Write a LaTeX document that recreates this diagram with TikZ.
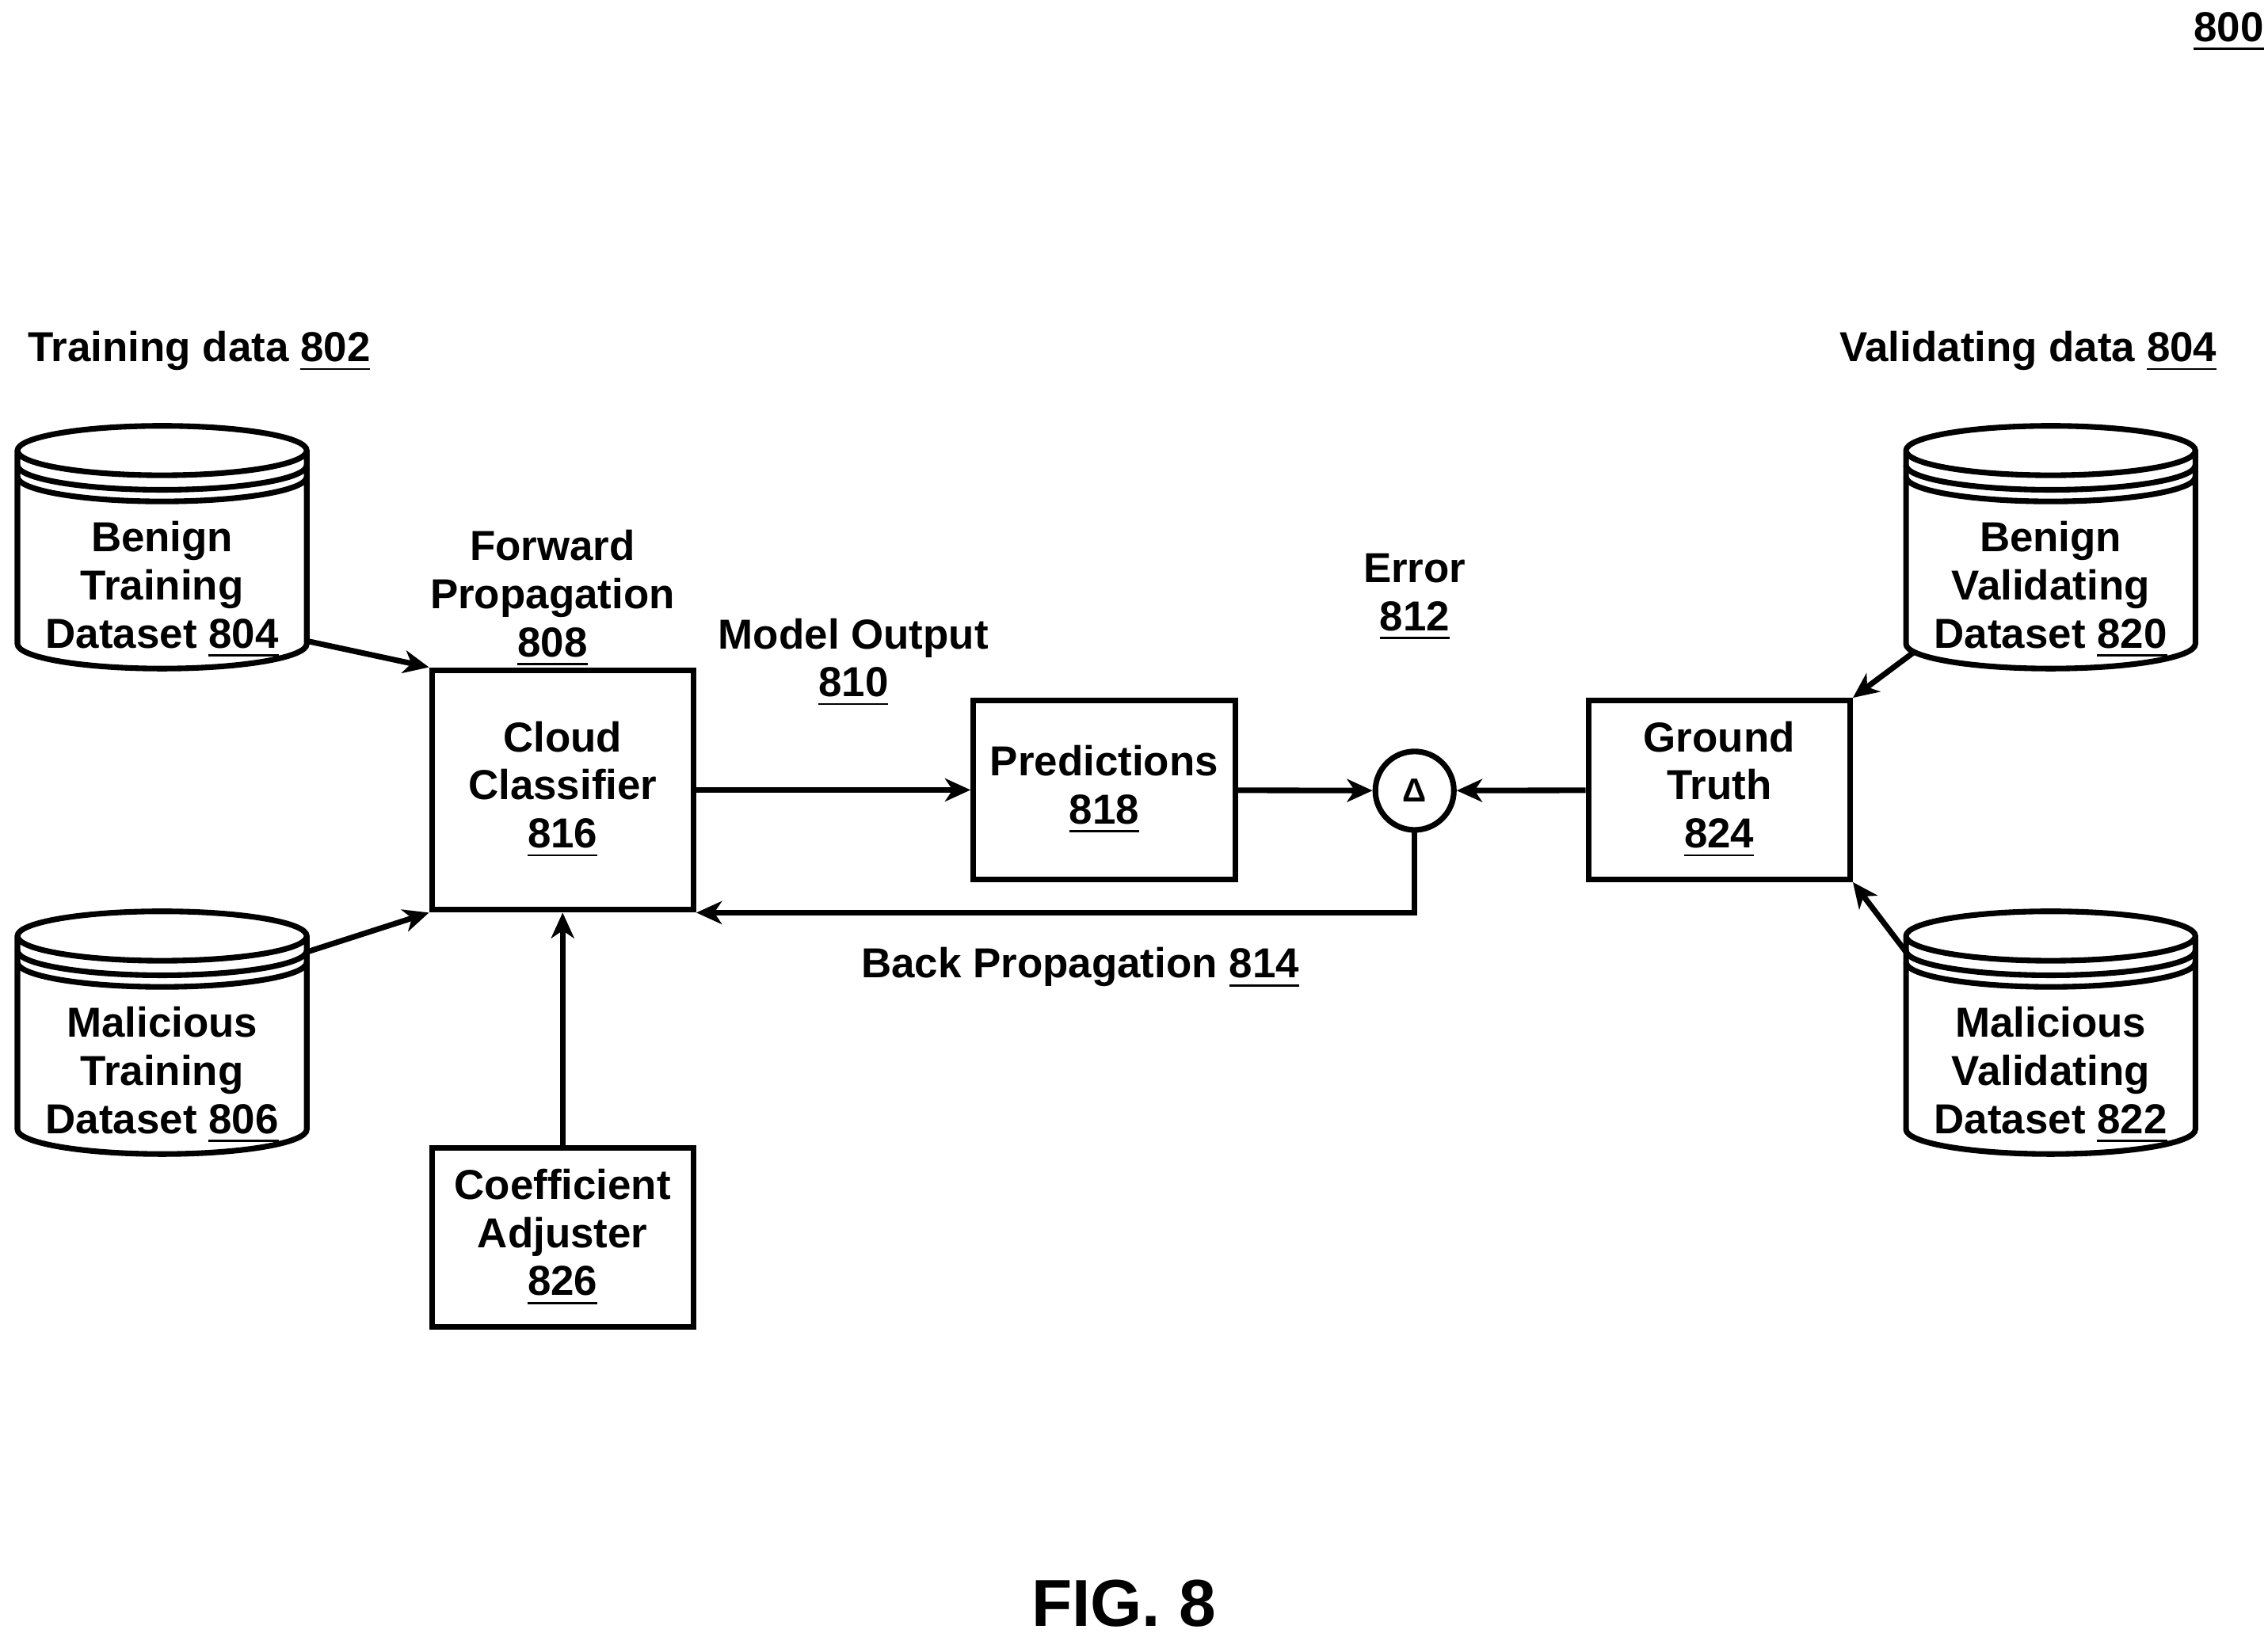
\documentclass[tikz,border=0pt]{standalone}
\usepackage{fontspec}
\setmainfont{Liberation Sans}
\usetikzlibrary{arrows.meta}
\usetikzlibrary{positioning}

% database cylinder: name, left x, top y, text
\newcommand{\dbcyl}[4]{%
  \draw[thick line] (#2,#3-0.17) arc[start angle=180,end angle=360,x radius=0.995,y radius=0.17]
    arc[start angle=0,end angle=180,x radius=0.995,y radius=0.17] -- (#2,#3-1.5)
    arc[start angle=180,end angle=360,x radius=0.995,y radius=0.17] -- (#2+1.99,#3-0.17);
  \draw[thick line] (#2,#3-0.27) arc[start angle=180,end angle=360,x radius=0.995,y radius=0.17];
  \draw[thick line] (#2,#3-0.35) arc[start angle=180,end angle=360,x radius=0.995,y radius=0.17];
  \node[txt] (#1) at (#2+0.995,#3-1.13) {#4};
}

\begin{document}
\begin{tikzpicture}[
  thick line/.style={line width=1.1pt},
  txt/.style={font=\bfseries\fontsize{8.2}{9.4}\selectfont,align=center,inner sep=0pt},
  box/.style={draw,thick line,txt,minimum width=1.8cm},
  arr/.style={thick line,-{Stealth[length=5pt,width=4.5pt,inset=1.5pt]}}
]
\useasboundingbox (0,0) rectangle (15.6,-11.235);

\node[txt] (n800) at (15.33,-0.22) {\underline{800}};
\node[txt] (train) at (1.37,-2.42) {Training data \underline{802}};
\node[txt] (valid) at (13.95,-2.42) {Validating data \underline{804}};

\dbcyl{bt}{0.12}{-2.93}{Benign\\Training\\Dataset \underline{804}}
\dbcyl{mt}{0.12}{-6.27}{Malicious\\Training\\Dataset \underline{806}}
\dbcyl{bv}{13.11}{-2.93}{Benign\\Validating\\Dataset \underline{820}}
\dbcyl{mv}{13.11}{-6.27}{Malicious\\Validating\\Dataset \underline{822}}

\node[box,minimum height=1.65cm] (cloud) at (3.87,-5.435) {Cloud\\Classifier\\\underline{816}};
\node[box,minimum height=1.23cm] (pred) at (7.595,-5.435) {Predictions\\\underline{818}};
\node[draw,thick line,circle,minimum size=0.54cm,inner sep=0pt,font=\bfseries\fontsize{6.5}{8}\selectfont] (err) at (9.73,-5.44) {Δ};
\node[box,minimum height=1.23cm] (gt) at (11.825,-5.435) {Ground\\Truth\\\underline{824}};
\node[box,minimum height=1.23cm] (coef) at (3.87,-8.515) {Coefficient\\Adjuster\\\underline{826}};

\node[txt] (fwd) at (3.80,-4.12) {Forward\\Propagation\\\underline{808}};
\node[txt] (mout) at (5.87,-4.56) {Model Output\\\underline{810}};
\node[txt] (errl) at (9.73,-4.11) {Error\\\underline{812}};
\node[txt] (back) at (7.43,-6.66) {Back Propagation \underline{814}};
\node[font=\bfseries\fontsize{13}{15}\selectfont,inner sep=0pt] (fig) at (7.73,-11.03) {FIG. 8};

\coordinate (bt out) at (2.11,-4.41);
\coordinate (mt out) at (2.11,-6.55);
\coordinate (bv out) at (13.16,-4.49);
\coordinate (mv out) at (13.11,-6.55);

\draw[arr] (bt out) -- (cloud.north west);
\draw[arr] (mt out) -- (cloud.south west);
\draw[arr] (cloud) -- (pred);
\draw[arr] (pred) -- (err);
\draw[arr] (gt) -- (err);
\draw[arr] (err.south) |- (cloud.south east);
\draw[arr] (coef) -- (cloud);
\draw[arr] (bv out) -- (gt.north east);
\draw[arr] (mv out) -- (gt.south east);
\end{tikzpicture}
\end{document}
